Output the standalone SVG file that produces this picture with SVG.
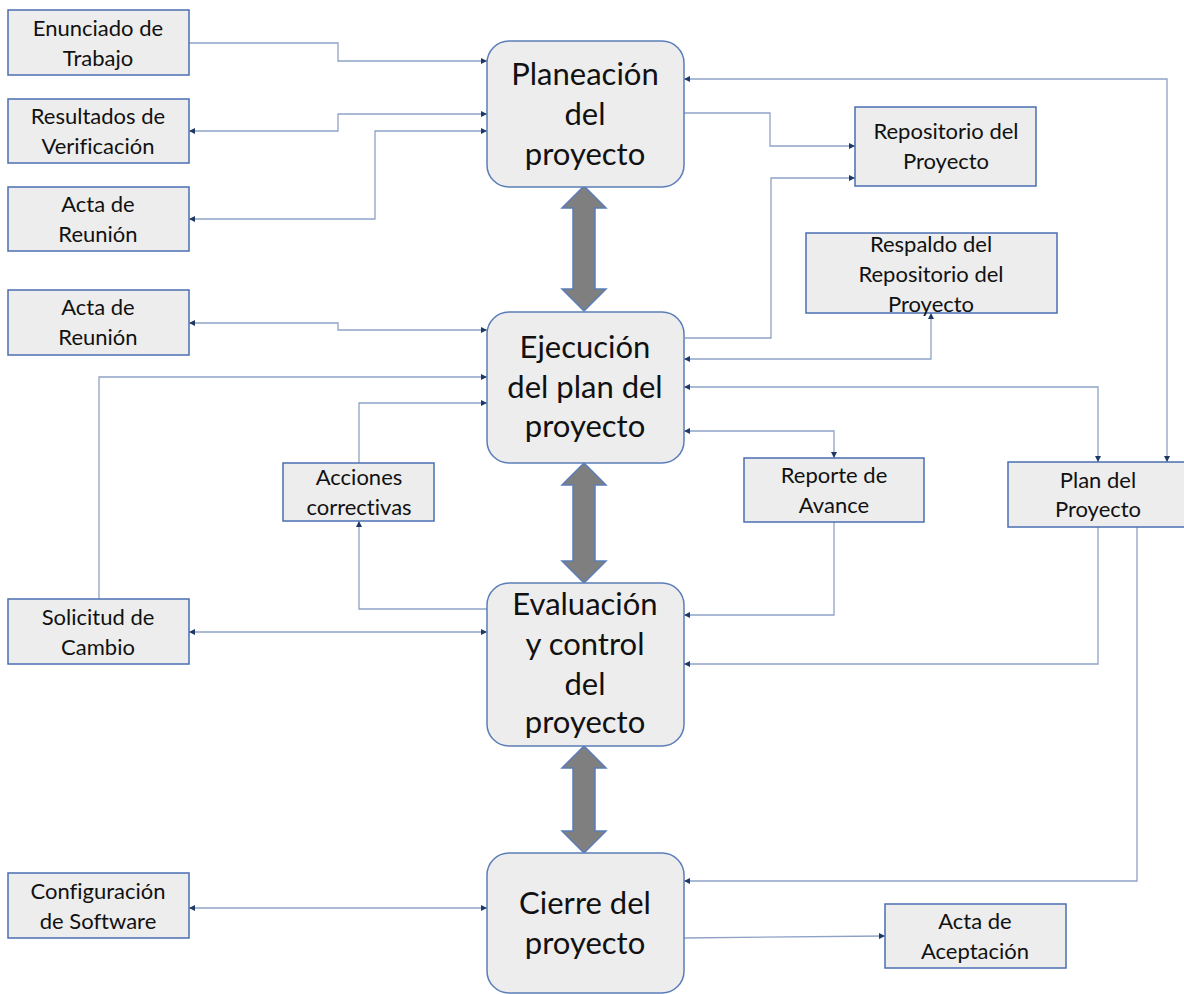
<svg xmlns="http://www.w3.org/2000/svg" width="1184" height="994" viewBox="0 0 1184 994">
  <style>
    .box { fill: #EDEDED; stroke: #4A6FB3; stroke-width: 1.5; }
    .phase { fill: #EDEDED; stroke: #5B7DB8; stroke-width: 1.5; }
    .big { fill: #7F7F7F; stroke: #5B7DB8; stroke-width: 1.5; }
    text { font-variant-ligatures: none; }
    .lbl { font-family: Lato, "Open Sans", sans-serif; font-size: 22px; fill: #111; text-anchor: middle; }
    .hdr { font-family: Lato, "Open Sans", sans-serif; font-size: 31px; fill: #111; text-anchor: middle; }
    .link { fill: none; stroke: #8FA2C6; stroke-width: 1.3; }
    .one { marker-end: url(#tip); }
    .two { marker-start: url(#tip); marker-end: url(#tip); }
  </style>
  <defs>
    <marker id="tip" viewBox="0 0 6 6" refX="6" refY="3" markerWidth="6" markerHeight="6" markerUnits="userSpaceOnUse" orient="auto-start-reverse">
      <path d="M0,0 L6,3 L0,6 z" fill="#1F3864"/>
    </marker>
  </defs>

  <rect width="1184" height="994" fill="#FFFFFF"/>

  <!-- connectors -->
  <g id="connectors">
    <path class="link one" d="M189,43 H338 V61 H487"/>
    <path class="link two" d="M487,114 H338 V131 H189"/>
    <path class="link two" d="M487,131 H375 V219 H189"/>
    <path class="link two" d="M487,330 H338 V323 H189"/>
    <path class="link one" d="M99,599 V377 H487"/>
    <path class="link one" d="M359,463 V403 H487"/>
    <path class="link one" d="M487,609 H359 V521"/>
    <path class="link two" d="M487,632 H189"/>
    <path class="link two" d="M487,908 H189"/>
    <path class="link one" d="M684,113 H770 V146 H855"/>
    <path class="link one" d="M685,338 H771 V178 H855"/>
    <path class="link two" d="M684,359 H931 V313"/>
    <path class="link two" d="M684,387 H1098 V462"/>
    <path class="link two" d="M684,431 H834 V458"/>
    <path class="link one" d="M834,522 V615 H684"/>
    <path class="link one" d="M1098,527 V664 H684"/>
    <path class="link one" d="M1137,527 V881 H684"/>
    <path class="link two" d="M684,79 H1167 V462"/>
    <path class="link one" d="M684,938 L885,936"/>
  </g>

  <!-- double arrows between phases -->
  <g id="phase-links">
    <polygon class="big" points="584,186 606,208 595,208 595,289 606,289 584,311 562,289 573,289 573,208 562,208"/>
    <polygon class="big" points="584,463 606,485 595,485 595,561 606,561 584,583 562,561 573,561 573,485 562,485"/>
    <polygon class="big" points="584,746 606,768 595,768 595,831 606,831 584,853 562,831 573,831 573,768 562,768"/>
  </g>

  <!-- phases -->
  <g id="planeacion">
    <rect class="phase" x="487" y="41" width="197" height="146" rx="22"/>
    <text class="hdr" x="585" y="85">Planeación</text>
    <text class="hdr" x="585" y="125">del</text>
    <text class="hdr" x="585" y="165">proyecto</text>
  </g>
  <g id="ejecucion">
    <rect class="phase" x="487" y="312" width="197" height="151" rx="22"/>
    <text class="hdr" x="585" y="358">Ejecución</text>
    <text class="hdr" x="585" y="398">del plan del</text>
    <text class="hdr" x="585" y="437">proyecto</text>
  </g>
  <g id="evaluacion">
    <rect class="phase" x="487" y="583" width="197" height="163" rx="22"/>
    <text class="hdr" x="585" y="615">Evaluación</text>
    <text class="hdr" x="585" y="655">y control</text>
    <text class="hdr" x="585" y="695">del</text>
    <text class="hdr" x="585" y="733">proyecto</text>
  </g>
  <g id="cierre">
    <rect class="phase" x="487" y="853" width="197" height="140" rx="22"/>
    <text class="hdr" x="585" y="914">Cierre del</text>
    <text class="hdr" x="585" y="954">proyecto</text>
  </g>

  <!-- artefacts, left column -->
  <g id="enunciado">
    <rect class="box" x="8" y="10" width="181" height="65"/>
    <text class="lbl" x="98" y="36">Enunciado de</text>
    <text class="lbl" x="98" y="66">Trabajo</text>
  </g>
  <g id="resultados">
    <rect class="box" x="8" y="99" width="181" height="64"/>
    <text class="lbl" x="98" y="124">Resultados de</text>
    <text class="lbl" x="98" y="154">Verificación</text>
  </g>
  <g id="acta-reunion-1">
    <rect class="box" x="8" y="187" width="181" height="64"/>
    <text class="lbl" x="98" y="212">Acta de</text>
    <text class="lbl" x="98" y="242">Reunión</text>
  </g>
  <g id="acta-reunion-2">
    <rect class="box" x="8" y="290" width="181" height="65"/>
    <text class="lbl" x="98" y="315">Acta de</text>
    <text class="lbl" x="98" y="345">Reunión</text>
  </g>
  <g id="solicitud">
    <rect class="box" x="8" y="599" width="181" height="65"/>
    <text class="lbl" x="98" y="625">Solicitud de</text>
    <text class="lbl" x="98" y="655">Cambio</text>
  </g>
  <g id="configuracion">
    <rect class="box" x="8" y="873" width="181" height="65"/>
    <text class="lbl" x="98" y="899">Configuración</text>
    <text class="lbl" x="98" y="929">de Software</text>
  </g>
  <g id="acciones">
    <rect class="box" x="283" y="463" width="151" height="58"/>
    <text class="lbl" x="359" y="485">Acciones</text>
    <text class="lbl" x="359" y="515">correctivas</text>
  </g>

  <!-- artefacts, right side -->
  <g id="repositorio">
    <rect class="box" x="855" y="107" width="181" height="79"/>
    <text class="lbl" x="946" y="139">Repositorio del</text>
    <text class="lbl" x="946" y="169">Proyecto</text>
  </g>
  <g id="respaldo">
    <rect class="box" x="806" y="233" width="251" height="80"/>
    <text class="lbl" x="931" y="252">Respaldo del</text>
    <text class="lbl" x="931" y="282">Repositorio del</text>
    <text class="lbl" x="931" y="312">Proyecto</text>
  </g>
  <g id="reporte">
    <rect class="box" x="744" y="458" width="180" height="64"/>
    <text class="lbl" x="834" y="483">Reporte de</text>
    <text class="lbl" x="834" y="513">Avance</text>
  </g>
  <g id="plan">
    <rect class="box" x="1008" y="462" width="181" height="65"/>
    <text class="lbl" x="1098" y="488">Plan del</text>
    <text class="lbl" x="1098" y="517">Proyecto</text>
  </g>
  <g id="acta-aceptacion">
    <rect class="box" x="885" y="904" width="181" height="64"/>
    <text class="lbl" x="975" y="929">Acta de</text>
    <text class="lbl" x="975" y="959">Aceptación</text>
  </g>
</svg>
